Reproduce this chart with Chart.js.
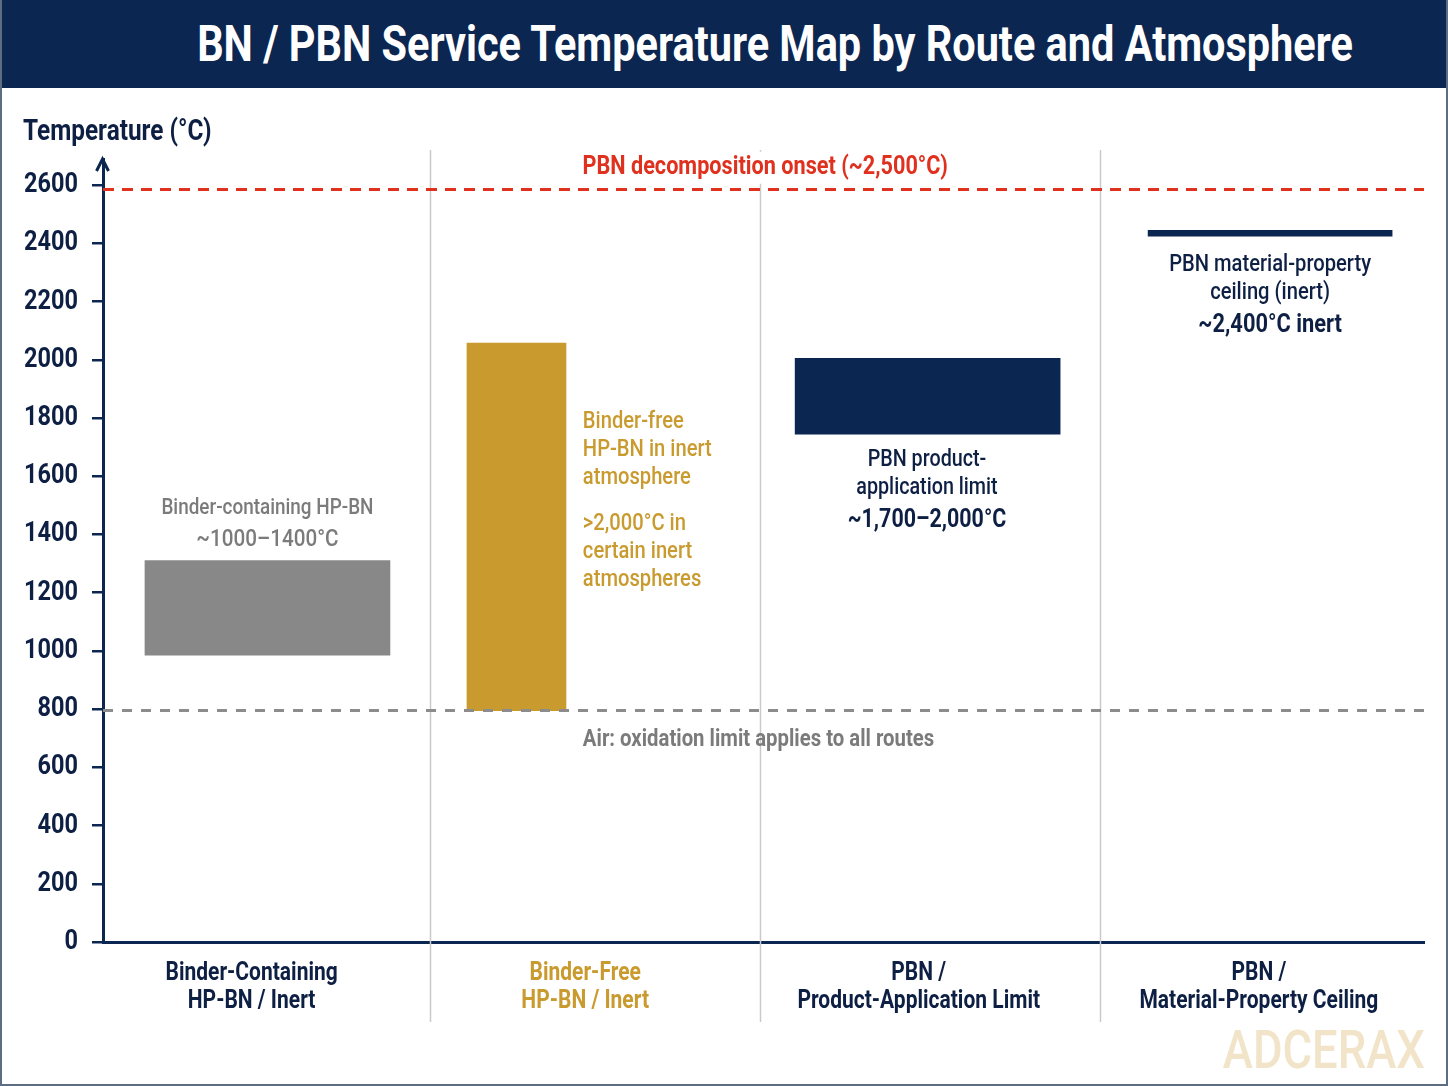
<!DOCTYPE html>
<html>
<head>
<meta charset="utf-8">
<title>BN / PBN Service Temperature Map</title>
<script src="https://cdn.jsdelivr.net/npm/chart.js@4.4.0/dist/chart.umd.min.js"></script>
<style>
    html, body { margin: 0; padding: 0; background: #ffffff; }
    #frame {
        position: relative; width: 1448px; height: 1086px; box-sizing: border-box;
        border: 2px solid #5d6d84; border-top: none; background: #ffffff; overflow: hidden;
    }
    #banner {
        position: absolute; left: -2px; top: 0; width: 1448px; height: 88px; background: #0b2650;
    }
    #banner h1 {
        position: absolute; left: 775px; top: 0; margin: 0; white-space: nowrap;
        line-height: 88px; color: #ffffff;
        font-family: Roboto, 'DejaVu Sans', sans-serif; font-size: 50px; font-weight: bold;
        transform-origin: center center;
    }
    #chartBox { position: absolute; left: 0; top: 88px; width: 1444px; height: 996px; }
</style>
</head>
<body>
<div id="frame">
    <div id="banner"><h1 id="mainTitle">BN / PBN Service Temperature Map by Route and Atmosphere</h1></div>
    <div id="chartBox"><canvas id="tempMap" width="1444" height="996"></canvas></div>
</div>
<script>
// ---- data ----
const routeLabels = [
    ['Binder-Containing', 'HP-BN / Inert'],
    ['Binder-Free', 'HP-BN / Inert'],
    ['PBN /', 'Product-Application Limit'],
    ['PBN /', 'Material-Property Ceiling']
];
const routeLabelX = [0.45, 1.46, 2.47, 3.5];
const routeDividers = [0.99, 1.99, 3.02];
const bandX = [0.498, 1.252, 2.497, 3.534];
const bandLow = [985, 795, 1745, 2425];
const bandHigh = [1310, 2058, 2005, 2445];
const yTickValues = [0, 200, 400, 600, 800, 1000, 1200, 1400, 1600, 1800, 2000, 2200, 2400, 2600];
const decompositionOnset = 2585;
const airOxidationLimit = 795;

const FONT = "Roboto, 'DejaVu Sans', sans-serif";
const SQUEEZE = 0.84; // the reference uses a condensed face
const NAVY = '#0b2650';
const INK = '#0e1f44';
const GOLD = '#c99a2e';
const RED = '#e0301e';
const TEXT_GREY = '#7b7b7b';

const bandColors = ['#888888', GOLD, NAVY, NAVY];
const bandWidths = [245, 99, 265, 244];

// text notes: [x value, y value, text, colour, size, weight, align]
const notes = [
    [0.498, 1490, 'Binder-containing HP-BN', TEXT_GREY, 22.5, '500', 'center'],
    [0.498, 1381, '~1000–1400°C', TEXT_GREY, 24.6, '500', 'center'],
    [1.453, 1786, 'Binder-free', GOLD, 24, '500', 'left'],
    [1.453, 1690, 'HP-BN in inert', GOLD, 24, '500', 'left'],
    [1.453, 1594, 'atmosphere', GOLD, 24, '500', 'left'],
    [1.453, 1436, '>2,000°C in', GOLD, 24, '500', 'left'],
    [1.453, 1340, 'certain inert', GOLD, 24, '500', 'left'],
    [1.453, 1243, 'atmospheres', GOLD, 24, '500', 'left'],
    [2.495, 1656, 'PBN product-', INK, 23.5, '500', 'center'],
    [2.495, 1559, 'application limit', INK, 23.5, '500', 'center'],
    [2.495, 1446, '~1,700–2,000°C', INK, 25.5, 'bold', 'center'],
    [3.534, 2325, 'PBN material-property', INK, 24, '500', 'center'],
    [3.534, 2229, 'ceiling (inert)', INK, 24, '500', 'center'],
    [3.534, 2119, '~2,400°C inert', INK, 26, 'bold', 'center'],
    [1.453, 694, 'Air: oxidation limit applies to all routes', TEXT_GREY, 24.2, 'bold', 'left']
];

// condense every text run drawn on the canvas around its anchor
const canvas = document.getElementById('tempMap');
const c2d = canvas.getContext('2d');
const rawFillText = c2d.fillText.bind(c2d);
c2d.fillText = function (text, x, y) {
    this.save();
    this.translate(x, y);
    this.scale(SQUEEZE, 1);
    rawFillText(text, 0, 0);
    this.restore();
};

const decorPlugin = {
    id: 'decor',
    beforeDatasetsDraw(chart) {
        const { ctx, chartArea, scales: { x, y } } = chart;
        ctx.save();
        // route separators
        ctx.strokeStyle = '#cacaca';
        ctx.lineWidth = 1.5;
        routeDividers.forEach(v => {
            const px = Math.round(x.getPixelForValue(v)) + 0.5;
            ctx.beginPath();
            ctx.moveTo(px, chartArea.top - 9);
            ctx.lineTo(px, chartArea.bottom + 80);
            ctx.stroke();
        });
        // decomposition label, with a white box over the separator
        const label = 'PBN decomposition onset (~2,500°C)';
        ctx.font = 'bold 25.8px ' + FONT;
        ctx.textAlign = 'center';
        ctx.textBaseline = 'middle';
        const lx = x.getPixelForValue(2.005);
        const ly = y.getPixelForValue(2660);
        const w = ctx.measureText(label).width * SQUEEZE;
        ctx.fillStyle = '#ffffff';
        ctx.fillRect(lx - w / 2 - 4, ly - 16, w + 8, 32);
        ctx.fillStyle = RED;
        ctx.fillText(label, lx, ly);
        ctx.restore();
    },
    afterDraw(chart) {
        const { ctx, chartArea, scales: { x, y } } = chart;
        ctx.save();
        // arrow head on the y axis
        const ax = chartArea.left - 0.5;
        ctx.strokeStyle = NAVY;
        ctx.lineWidth = 3;
        ctx.beginPath();
        ctx.moveTo(ax - 6, chartArea.top + 12);
        ctx.lineTo(ax, chartArea.top);
        ctx.lineTo(ax + 6, chartArea.top + 12);
        ctx.stroke();

        // axis title
        ctx.fillStyle = INK;
        ctx.font = 'bold 29px ' + FONT;
        ctx.textAlign = 'left';
        ctx.textBaseline = 'middle';
        ctx.fillText('Temperature (°C)', 21, 45);

        // notes
        notes.forEach(([vx, vy, text, color, size, weight, align]) => {
            ctx.font = weight + ' ' + size + 'px ' + FONT;
            ctx.fillStyle = color;
            ctx.textAlign = align;
            ctx.fillText(text, x.getPixelForValue(vx), y.getPixelForValue(vy));
        });

        // watermark
        ctx.font = '500 54px ' + FONT;
        ctx.fillStyle = '#f1e4c8';
        ctx.textAlign = 'right';
        ctx.fillText('ADCERAX', chartArea.right + 1, chartArea.bottom + 112);
        ctx.restore();
    }
};

const bandSets = bandLow.map((lo, i) => ({
    type: 'bar',
    data: [{ x: bandX[i], y: [lo, bandHigh[i]] }],
    backgroundColor: bandColors[i],
    barThickness: bandWidths[i],
    grouped: false,
    order: 2
}));

const refLine = (val, color, dash) => ({
    type: 'line',
    data: [{ x: 0, y: val }, { x: 4, y: val }],
    borderColor: color,
    borderWidth: 3,
    borderDash: dash,
    pointRadius: 0,
    order: 0
});

new Chart(canvas, {
    type: 'bar',
    data: {
        datasets: [
            ...bandSets,
            refLine(decompositionOnset, RED, [11, 8]),
            refLine(airOxidationLimit, '#8c8c8c', [10, 9])
        ]
    },
    options: {
        responsive: false,
        animation: false,
        layout: { padding: { top: 71, right: 22, bottom: 0, left: 0 } },
        plugins: { legend: { display: false }, tooltip: { enabled: false } },
        scales: {
            x: {
                type: 'linear', min: 0, max: 4, offset: false,
                afterBuildTicks: s => { s.ticks = routeLabelX.map(v => ({ value: v })); },
                afterFit: s => { s.height = 142; },
                grid: { display: false, drawTicks: false },
                border: { display: true, color: NAVY, width: 3 },
                ticks: {
                    autoSkip: false, maxRotation: 0, padding: 18,
                    callback: (v, i) => routeLabels[i],
                    color: c => c.index === 1 ? GOLD : INK,
                    font: { family: FONT, size: 25, weight: 'bold', lineHeight: 1.12 }
                }
            },
            y: {
                min: 0, max: 2690,
                afterBuildTicks: s => { s.ticks = yTickValues.map(v => ({ value: v })); },
                afterFit: s => { s.width = 101; },
                grid: { drawOnChartArea: false, drawTicks: true, tickLength: 11, color: NAVY, lineWidth: 2.5 },
                border: { display: true, color: NAVY, width: 3 },
                ticks: {
                    padding: 14, color: INK,
                    callback: v => String(v),
                    font: { family: FONT, size: 28, weight: 'bold' }
                }
            }
        }
    },
    plugins: [decorPlugin]
});

// fit the banner title to the reference width, centred where it sits there
const title = document.getElementById('mainTitle');
const titleScale = 1156 / title.offsetWidth;
title.style.transform = 'translateX(-50%) scaleX(' + titleScale.toFixed(3) + ')';
</script>
</body>
</html>
